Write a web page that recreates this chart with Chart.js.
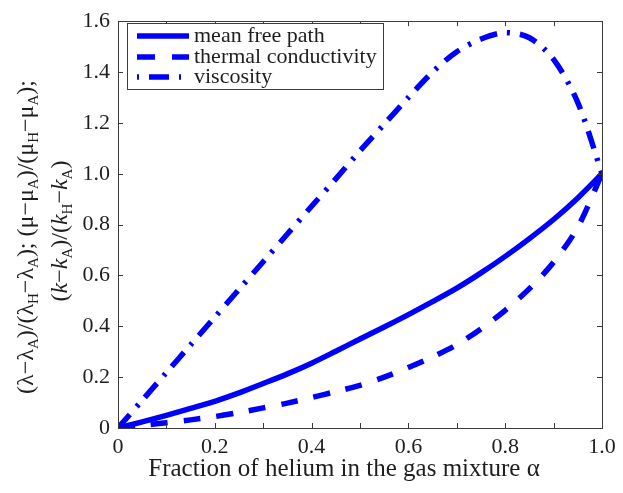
<!DOCTYPE html>
<html>
<head>
<meta charset="utf-8">
<script src="https://cdn.jsdelivr.net/npm/chart.js@4.4.1/dist/chart.umd.min.js"></script>
<style>
  html, body { margin: 0; padding: 0; background: #ffffff; }
  #wrap { width: 623px; height: 493px; position: relative; }
</style>
</head>
<body>
<div id="wrap"><canvas id="c" width="623" height="493"></canvas></div>
<script>
// ---- data ----
const alpha = [0, 0.05, 0.1, 0.15, 0.2, 0.25, 0.3, 0.35, 0.4, 0.45, 0.5, 0.55, 0.6, 0.65, 0.7, 0.75, 0.8, 0.85, 0.9, 0.95, 1.0];
const meanFreePath = [0, 0.024, 0.05, 0.077, 0.105, 0.138, 0.175, 0.213, 0.255, 0.302, 0.35, 0.397, 0.446, 0.497, 0.55, 0.61, 0.675, 0.745, 0.82, 0.905, 1.0];
const thermalConductivity = [0, 0.01, 0.021, 0.032, 0.045, 0.061, 0.079, 0.098, 0.12, 0.143, 0.168, 0.2, 0.238, 0.28, 0.328, 0.39, 0.463, 0.548, 0.652, 0.79, 1.0];
const viscosity = [0, 0.109, 0.218, 0.327, 0.436, 0.545, 0.654, 0.763, 0.872, 0.98, 1.09, 1.195, 1.30, 1.40, 1.48, 1.53, 1.555, 1.535, 1.45, 1.28, 1.0];
const seriesLabels = ["mean free path", "thermal conductivity", "viscosity"];
const xTickValues = [0, 0.2, 0.4, 0.6, 0.8, 1.0];
const xTickLabels = ["0", "0.2", "0.4", "0.6", "0.8", "1.0"];
const yTickValues = [0, 0.2, 0.4, 0.6, 0.8, 1.0, 1.2, 1.4, 1.6];
const yTickLabels = ["0", "0.2", "0.4", "0.6", "0.8", "1.0", "1.2", "1.4", "1.6"];
const xTitle = "Fraction of helium in the gas mixture α";
// y title, as [text, style] pieces: n = normal, s = subscript, i = italic
const yTitleLine1 = [["(λ−λ","n"],["A","s"],[")/(λ","n"],["H","s"],["−λ","n"],["A","s"],["); (μ−μ","n"],["A","s"],[")/(μ","n"],["H","s"],["−μ","n"],["A","s"],[");","n"]];
const yTitleLine2 = [["(","n"],["k","i"],["−","n"],["k","i"],["A","s"],[")/(","n"],["k","i"],["H","s"],["−","n"],["k","i"],["A","s"],[")","n"]];

const SERIF = "'Liberation Serif', 'DejaVu Serif', serif";
const TEXT = "#1e1e1e";
const FRAME = "#3c3c3c";
const BLUE = "#0000ff";

function toXY(ys) { return alpha.map((a, i) => ({ x: a, y: ys[i] })); }

function labelFor(values, labels, v) {
  for (let i = 0; i < values.length; i++) if (Math.abs(values[i] - v) < 1e-6) return labels[i];
  return "";
}

const framePlugin = {
  id: "frame",
  afterDatasetsDraw(chart) {
    const ctx = chart.ctx, a = chart.chartArea;
    const xs = chart.scales.x, ys = chart.scales.y;
    ctx.save();
    ctx.strokeStyle = FRAME;
    ctx.lineWidth = 1;
    ctx.strokeRect(Math.round(a.left) + 0.5, Math.round(a.top) + 0.5, Math.round(a.right - a.left), Math.round(a.bottom - a.top));
    const tl = 5;
    ctx.beginPath();
    xs.ticks.forEach(t => {
      const px = Math.round(xs.getPixelForValue(t.value)) + 0.5;
      ctx.moveTo(px, a.bottom); ctx.lineTo(px, a.bottom - tl);
      ctx.moveTo(px, a.top); ctx.lineTo(px, a.top + tl);
    });
    ys.ticks.forEach(t => {
      const py = Math.round(ys.getPixelForValue(t.value)) + 0.5;
      ctx.moveTo(a.left, py); ctx.lineTo(a.left + tl, py);
      ctx.moveTo(a.right, py); ctx.lineTo(a.right - tl, py);
    });
    ctx.stroke();
    ctx.restore();
  },
  afterDraw(chart) {
    const ctx = chart.ctx, a = chart.chartArea;
    ctx.save();
    // legend box
    const lx0 = 127, ly0 = 23, lx1 = 383, ly1 = 89;
    ctx.fillStyle = "#ffffff";
    ctx.fillRect(lx0, ly0, lx1 - lx0, ly1 - ly0);
    ctx.strokeStyle = FRAME;
    ctx.lineWidth = 1;
    ctx.strokeRect(lx0 + 0.5, ly0 + 0.5, lx1 - lx0, ly1 - ly0);
    const rows = [36, 57, 77];
    const legendDash = [[], [18, 17], [2, 10, 20, 10]];
    chart.data.datasets.forEach((ds, i) => {
      ctx.beginPath();
      ctx.strokeStyle = ds.borderColor;
      ctx.lineWidth = ds.borderWidth;
      ctx.lineCap = "butt";
      ctx.setLineDash(legendDash[i]);
      ctx.moveTo(137, rows[i]); ctx.lineTo(189, rows[i]);
      ctx.stroke();
      ctx.setLineDash([]);
      ctx.fillStyle = TEXT;
      ctx.font = "22px " + SERIF;
      ctx.textBaseline = "middle";
      ctx.textAlign = "left";
      ctx.fillText(ds.label, 194, rows[i]);
    });
    // x title
    ctx.fillStyle = TEXT;
    ctx.font = "25px " + SERIF;
    ctx.textAlign = "center";
    ctx.textBaseline = "middle";
    ctx.fillText(xTitle, 344, 469);
    // y title (rotated, with subscripts)
    drawRich(ctx, yTitleLine1, 33, 237);
    drawRich(ctx, yTitleLine2, 67, 231);
    ctx.restore();
  }
};

function fontFor(style) {
  if (style === "s") return "15px " + SERIF;
  if (style === "i") return "italic 24px " + SERIF;
  return "24px " + SERIF;
}
function drawRich(ctx, pieces, baseX, centerY) {
  ctx.save();
  let total = 0;
  pieces.forEach(p => { ctx.font = fontFor(p[1]); total += ctx.measureText(p[0]).width; });
  ctx.translate(baseX, centerY);
  ctx.rotate(-Math.PI / 2);
  ctx.fillStyle = TEXT;
  ctx.textAlign = "left";
  ctx.textBaseline = "alphabetic";
  let x = -total / 2;
  pieces.forEach(p => {
    ctx.font = fontFor(p[1]);
    const dy = p[1] === "s" ? 5 : 0;
    ctx.fillText(p[0], x, dy);
    x += ctx.measureText(p[0]).width;
  });
  ctx.restore();
}

new Chart(document.getElementById("c"), {
  type: "line",
  data: {
    datasets: [
      { label: seriesLabels[0], data: toXY(meanFreePath), borderColor: BLUE, borderWidth: 5.5, borderDash: [], pointRadius: 0, fill: false, tension: 0.3, borderCapStyle: "butt" },
      { label: seriesLabels[1], data: toXY(thermalConductivity), borderColor: BLUE, borderWidth: 5.5, borderDash: [17, 16], pointRadius: 0, fill: false, tension: 0.3, borderCapStyle: "butt" },
      { label: seriesLabels[2], data: toXY(viscosity), borderColor: BLUE, borderWidth: 5.5, borderDash: [18, 10, 3, 10], pointRadius: 0, fill: false, tension: 0.3, borderCapStyle: "butt" }
    ]
  },
  options: {
    responsive: false,
    animation: false,
    layout: { padding: { top: 16, right: 21, left: 0, bottom: 0 } },
    plugins: { legend: { display: false }, tooltip: { enabled: false } },
    scales: {
      x: {
        type: "linear", min: 0, max: 1,
        grid: { display: false, drawTicks: false },
        border: { display: false },
        ticks: {
          stepSize: 0.1, autoSkip: false, maxRotation: 0, padding: 6,
          color: TEXT, font: { family: SERIF, size: 22 },
          callback: v => labelFor(xTickValues, xTickLabels, v)
        },
        afterFit: s => { s.height = 65; }
      },
      y: {
        type: "linear", min: 0, max: 1.6,
        grid: { display: false, drawTicks: false },
        border: { display: false },
        ticks: {
          stepSize: 0.2, autoSkip: false, padding: 8,
          color: TEXT, font: { family: SERIF, size: 22 },
          callback: v => labelFor(yTickValues, yTickLabels, v)
        },
        afterFit: s => { s.width = 118; }
      }
    }
  },
  plugins: [framePlugin]
});
</script>
</body>
</html>
